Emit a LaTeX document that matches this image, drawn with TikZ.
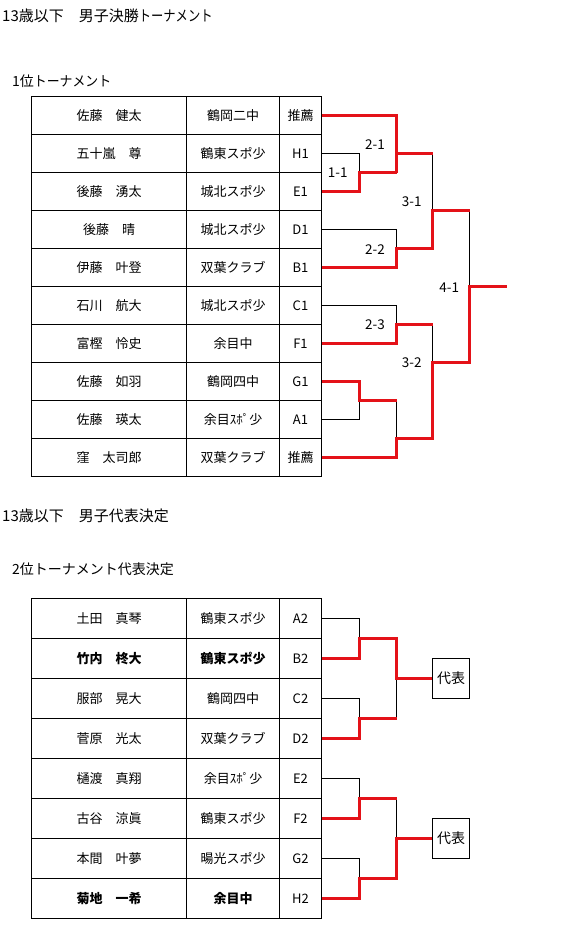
\documentclass[tikz,border=0pt]{standalone}
\usepackage{fontspec}
\usepackage{graphicx}
\setmainfont{Noto Sans CJK JP}
\definecolor{winred}{RGB}{228,18,24}
\newcommand\tabrow[7]{%
  \node[cellbox,minimum width=155pt,minimum height=#3] (#1a) at (31.5,#2) {#4};
  \node[cellbox,minimum width=93pt,minimum height=#3] (#1b) at (186.5,#2) {#5};
  \node[cellbox,minimum width=42pt,minimum height=#3] (#1c) at (279.5,#2) {#6};
}
\begin{document}
\begin{tikzpicture}[x=1pt,y=-1pt,
  cellbox/.style={draw=black,line width=1pt,anchor=north west,inner sep=0pt,outer sep=0pt,font=\fontsize{13}{15}\selectfont},
  title/.style={anchor=west,inner sep=0pt,font=\fontsize{15}{17}\selectfont},
  subtitle/.style={anchor=west,inner sep=0pt,font=\fontsize{14}{16}\selectfont},
  score/.style={inner sep=0pt,font=\fontsize{13.5}{15}\selectfont},
  lose/.style={draw=black,line width=1pt},
  win/.style={draw=winred,line width=3pt,line join=miter},
  repbox/.style={draw=black,line width=1pt,minimum width=37pt,minimum height=40pt,inner sep=0pt,font=\fontsize{14}{16}\selectfont}]
\useasboundingbox (0,0) rectangle (579,937);

\node[title] (t1) at (2,16) {13歳以下　男子決勝\scalebox{0.82}[1]{トーナメント}};
\node[subtitle] (s1) at (12,81) {1位\scalebox{0.92}[1]{トーナメント}};

\tabrow{p1}{96.5}{38pt}{佐藤　健太}{鶴岡二中}{推薦}{}
\tabrow{p2}{134.5}{38pt}{五十嵐　尊}{鶴東スポ少}{H1}{}
\tabrow{p3}{172.5}{38pt}{後藤　湧太}{城北スポ少}{E1}{}
\tabrow{p4}{210.5}{38pt}{後藤　晴}{城北スポ少}{D1}{}
\tabrow{p5}{248.5}{38pt}{伊藤　叶登}{双葉クラブ}{B1}{}
\tabrow{p6}{286.5}{38pt}{石川　航大}{城北スポ少}{C1}{}
\tabrow{p7}{324.5}{38pt}{富樫　怜史}{余目中}{F1}{}
\tabrow{p8}{362.5}{38pt}{佐藤　如羽}{鶴岡四中}{G1}{}
\tabrow{p9}{400.5}{38pt}{佐藤　瑛太}{余目ｽﾎﾟ少}{A1}{}
\tabrow{pj}{438.5}{38pt}{窪　太司郎}{双葉クラブ}{推薦}{}

% bracket 1 - losers
\draw[lose] (p2c.east) -| (359.5,172.5);
\draw[lose] (432.5,153.5) -- (432.5,210.5);
\draw[lose] (p4c.east) -| (396.5,248.5);
\draw[lose] (469.5,210.5) -- (469.5,286.5);
\draw[lose] (p6c.east) -| (396.5,324.5);
\draw[lose] (432.5,324.5) -- (432.5,362.5);
\draw[lose] (p9c.east) -| (359.5,400.5);
\draw[lose] (396.5,400.5) -- (396.5,438.5);
% bracket 1 - winners
\draw[win] (p1c.east) -| (396.5,172.5);
\draw[win] (p3c.east) -| (359.5,172.5) -- (396.5,172.5);
\draw[win] (396.5,153.5) -- (432.5,153.5);
\draw[win] (p5c.east) -| (396.5,248.5) -| (432.5,210.5) -- (469.5,210.5);
\draw[win] (p7c.east) -| (396.5,324.5) -- (432.5,324.5);
\draw[win] (p8c.east) -| (359.5,400.5) -- (396.5,400.5);
\draw[win] (pjc.east) -| (396.5,438.5) -| (432.5,362.5) -| (469.5,286.5) -- (507,286.5);

\node[score] (g11) at (337.7,172.7) {1-1};
\node[score] (g21) at (375,145) {2-1};
\node[score] (g22) at (375,249.3) {2-2};
\node[score] (g23) at (375,325) {2-3};
\node[score] (g31) at (411.7,202) {3-1};
\node[score] (g32) at (411.7,362.7) {3-2};
\node[score] (g41) at (449.3,287.3) {4-1};

\node[title] (t2) at (2,516) {13歳以下　男子代表決定};
\node[subtitle] (s2) at (12,569) {2位トーナメント代表決定};

\tabrow{q1}{598.5}{40pt}{土田　真琴}{鶴東スポ少}{A2}{}
\tabrow{q2}{638.5}{40pt}{\bfseries 竹内　柊大}{\bfseries 鶴東スポ少}{B2}{}
\tabrow{q3}{678.5}{40pt}{服部　晃大}{鶴岡四中}{C2}{}
\tabrow{q4}{718.5}{40pt}{菅原　光太}{双葉クラブ}{D2}{}
\tabrow{q5}{758.5}{40pt}{樋渡　真翔}{余目ｽﾎﾟ少}{E2}{}
\tabrow{q6}{798.5}{40pt}{古谷　涼眞}{鶴東スポ少}{F2}{}
\tabrow{q7}{838.5}{40pt}{本間　叶夢}{暘光スポ少}{G2}{}
\tabrow{q8}{878.5}{40pt}{\bfseries 菊地　一希}{\bfseries 余目中}{H2}{}

\node[repbox] (rep1) at (451,678.5) {代表};
\node[repbox] (rep2) at (451,838.5) {代表};

% bracket 2 - losers
\draw[lose] (q1c.east) -| (359.5,638.5);
\draw[lose] (q3c.east) -| (359.5,718.5);
\draw[lose] (396.5,718.5) -- (396.5,678.5);
\draw[lose] (q5c.east) -| (359.5,798.5);
\draw[lose] (396.5,798.5) -- (396.5,838.5);
\draw[lose] (q7c.east) -| (359.5,878.5);
% bracket 2 - winners
\draw[win] (q2c.east) -| (359.5,638.5) -| (396.5,678.5) -- (rep1.west);
\draw[win] (q4c.east) -| (359.5,718.5) -- (396.5,718.5);
\draw[win] (q6c.east) -| (359.5,798.5) -- (396.5,798.5);
\draw[win] (q8c.east) -| (359.5,878.5) -| (396.5,838.5) -- (rep2.west);
\end{tikzpicture}
\end{document}
